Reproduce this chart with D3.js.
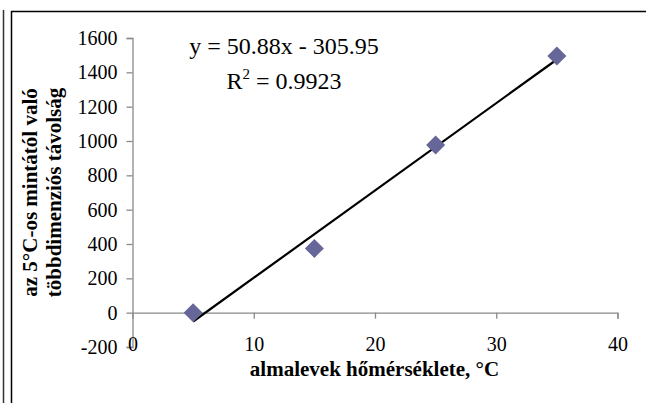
<!DOCTYPE html>
<html>
<head>
<meta charset="utf-8">
<script src="https://cdn.jsdelivr.net/npm/d3@7"></script>
<style>
  html, body { margin: 0; padding: 0; background: #fff; }
  svg { display: block; }
  svg text { font-family: "Liberation Serif", "Times New Roman", serif !important; fill: #000; }
</style>
</head>
<body>
<svg id="chart" width="646" height="403"></svg>
<script>
// Measured distances for each leaf temperature
const temperatures = [5, 15, 25, 35];
const distances = [0, 374.3, 977.3, 1495];

// Linear trendline, as printed in the label
const slope = 50.88;
const intercept = -305.95;
const rSquared = 0.9923;

const xTicks = [0, 10, 20, 30, 40];
const yTicks = [-200, 0, 200, 400, 600, 800, 1000, 1200, 1400, 1600];

const xTitle = "almalevek hőmérséklete, °C";
const yTitleLines = ["az 5°C-os mintától való", "többdimenziós távolság"];

const serif = '"Liberation Serif", "Times New Roman", serif';
const plain = d => String(d);

const svg = d3.select("#chart");

// frame lines
svg.append("line").attr("x1", 3.5).attr("x2", 3.5).attr("y1", 10).attr("y2", 403)
  .attr("stroke", "#333").attr("stroke-width", 1.5);
svg.append("path").attr("d", "M11.5,403 V11.5 H646")
  .attr("fill", "none").attr("stroke", "#000").attr("stroke-width", 1.5);

const x = d3.scaleLinear().domain([0, 40]).range([132.5, 617.5]);
const y = d3.scaleLinear().domain([-200, 1600]).range([347, 38]);

const axisColor = "#8a8a8a";

// y axis at x = 0
const yAxis = svg.append("g")
  .attr("transform", `translate(${x(0)},0)`)
  .call(d3.axisLeft(y).tickValues(yTicks).tickSize(6).tickPadding(9).tickFormat(plain));
yAxis.attr("font-family", serif);
yAxis.select(".domain").attr("stroke", axisColor).attr("stroke-width", 1.3);
yAxis.selectAll(".tick line").attr("stroke", axisColor).attr("stroke-width", 1.3);
yAxis.selectAll(".tick text")
  .style("font-family", serif).attr("font-size", 20).attr("fill", "#000");

// x axis at y = 0
const xAxis = svg.append("g")
  .attr("transform", `translate(0,${y(0)})`)
  .call(d3.axisBottom(x).tickValues(xTicks).tickSize(6).tickSizeOuter(6).tickPadding(0).tickFormat(plain));
xAxis.attr("font-family", serif);
xAxis.select(".domain").attr("stroke", axisColor).attr("stroke-width", 1.3);
xAxis.selectAll(".tick line").attr("stroke", axisColor).attr("stroke-width", 1.3);
xAxis.selectAll(".tick line").filter(d => d === 0).remove();
xAxis.selectAll(".tick text")
  .style("font-family", serif).attr("font-size", 20).attr("fill", "#000")
  .attr("dy", null).attr("y", 38);

// trendline over the data range
const xMin = d3.min(temperatures), xMax = d3.max(temperatures);
svg.append("line")
  .attr("x1", x(xMin)).attr("y1", y(slope * xMin + intercept))
  .attr("x2", x(xMax)).attr("y2", y(slope * xMax + intercept))
  .attr("stroke", "#000").attr("stroke-width", 2.2);

// diamond markers
const points = temperatures.map((t, i) => [t, distances[i]]);
svg.append("g").selectAll("path").data(points).join("path")
  .attr("transform", d => `translate(${x(d[0])},${y(d[1])})`)
  .attr("d", "M0,-9.5 L9.5,0 L0,9.5 L-9.5,0 Z")
  .attr("fill", "#666699");

// trendline equation
const eq = svg.append("text").attr("x", 284).attr("y", 54)
  .attr("text-anchor", "middle").attr("font-size", 24);
eq.text(`y = ${slope.toFixed(2)}x - ${Math.abs(intercept).toFixed(2)}`);
const r2 = svg.append("text").attr("x", 284).attr("y", 89)
  .attr("text-anchor", "middle").attr("font-size", 24);
r2.append("tspan").text("R");
r2.append("tspan").attr("font-size", 15).attr("dy", -10).text("2");
r2.append("tspan").attr("dy", 10).text(` = ${rSquared.toFixed(4)}`);

// axis titles
svg.append("text").attr("x", 374.5).attr("y", 376)
  .attr("text-anchor", "middle").attr("font-size", 21).attr("font-weight", "bold")
  .text(xTitle);

const yMid = (y(1600) + y(-200)) / 2;
svg.append("g").selectAll("text").data(yTitleLines).join("text")
  .attr("transform", (d, i) => `translate(${37 + i * 23.5},${yMid}) rotate(-90)`)
  .attr("text-anchor", "middle").attr("font-size", 21).attr("font-weight", "bold")
  .text(d => d);
</script>
</body>
</html>
